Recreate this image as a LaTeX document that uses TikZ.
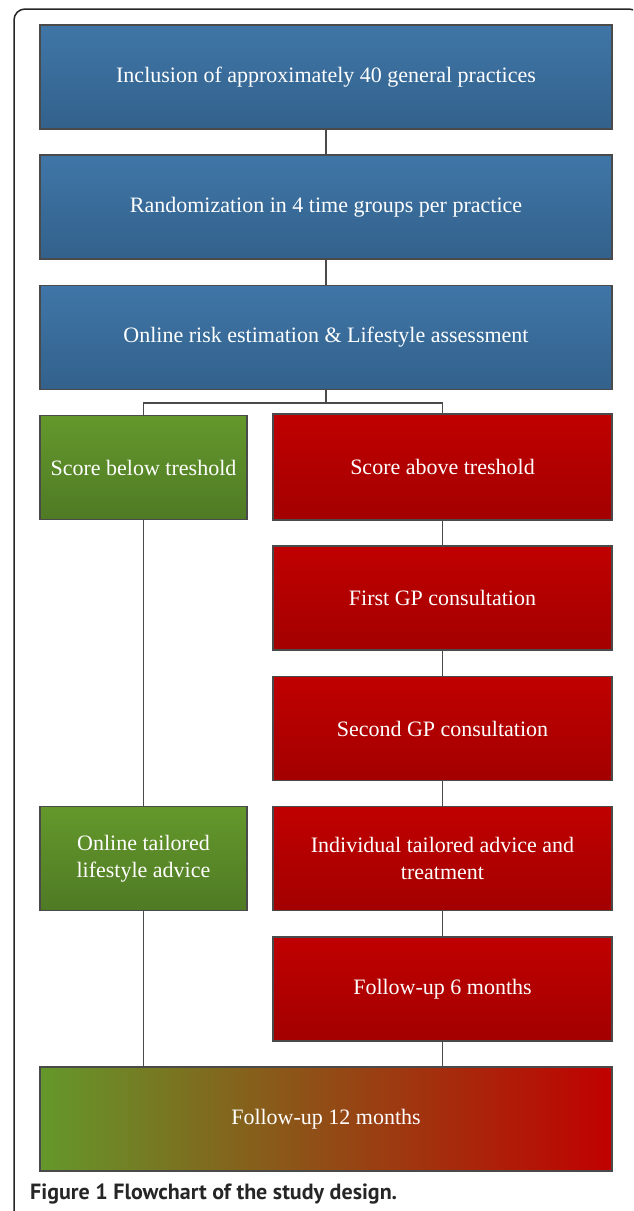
\documentclass[tikz,border=0pt]{standalone}
\usepackage{fontspec}
\setmainfont{Liberation Serif}
\newfontfamily\capfont{PT Sans}
\definecolor{blueT}{HTML}{3F76A7}
\definecolor{blueB}{HTML}{33618C}
\definecolor{greenT}{HTML}{64982B}
\definecolor{greenB}{HTML}{4F7A25}
\definecolor{redT}{HTML}{C00000}
\definecolor{redB}{HTML}{A30000}
\definecolor{fadeM}{HTML}{9C6E24}
\definecolor{boxline}{HTML}{4A4A4A}
\tikzset{
  box/.style={draw=boxline, line width=1.3pt, text=white, font=\fontsize{22}{27}\selectfont, align=center, inner sep=0pt, minimum height=104pt},
  bluebox/.style={box, top color=blueT, bottom color=blueB, minimum width=572pt},
  greenbox/.style={box, top color=greenT, bottom color=greenB, minimum width=207pt},
  redbox/.style={box, top color=redT, bottom color=redB, minimum width=339pt},
  fadebox/.style={box, left color=greenT, middle color=fadeM, right color=redT, minimum width=572pt},
  conn/.style={draw=boxline, line width=1.5pt},
  frame/.style={draw=black!85, line width=1.5pt, rounded corners=11pt}
}
\begin{document}
\begin{tikzpicture}[x=1pt,y=-1pt]
\useasboundingbox (0,0) rectangle (633,1211);
\begin{scope}
\clip (0,0) rectangle (633,1211);
\draw[frame] (14,1220) -- (14,9) -- (640,9) -- (640,1220);
\end{scope}
\node[bluebox] (b1) at (326,77) {Inclusion of approximately 40 general practices};
\node[bluebox] (b2) at (326,207) {Randomization in 4 time groups per practice};
\node[bluebox] (b3) at (326,337.5) {Online risk estimation \& Lifestyle assessment};
\node[greenbox] (g1) at (143.5,467.5) {Score below treshold};
\node[redbox, minimum height=106pt] (r1) at (442.5,467) {Score above treshold};
\node[redbox] (r2) at (442.5,598) {First GP consultation};
\node[redbox] (r3) at (442.5,728.5) {Second GP consultation};
\node[greenbox] (g2) at (143.5,858.5) {Online tailored\\lifestyle advice};
\node[redbox] (r4) at (442.5,858.5) {Individual tailored advice and\\treatment};
\node[redbox] (r5) at (442.5,989) {Follow-up 6 months};
\node[fadebox] (f) at (326,1119) {Follow-up 12 months};
\coordinate (sp) at (326,403);
\draw[conn] (b1) -- (b2);
\draw[conn] (b2) -- (b3);
\draw[conn] (b3) -- (sp);
\draw[conn] (g1.north) |- (sp) -| (r1.north);
\draw[conn] (g1) -- (g2);
\draw[conn] (r1) -- (r2);
\draw[conn] (r2) -- (r3);
\draw[conn] (r3) -- (r4);
\draw[conn] (r4) -- (r5);
\draw[conn] (g2.south) -- (g2.south |- f.north);
\draw[conn] (r5.south) -- (r5.south |- f.north);
\node[anchor=base west, inner sep=0pt, text=black!85, font=\capfont\bfseries\fontsize{22}{26}\selectfont] (cap) at (30,1199) {Figure 1 Flowchart of the study design.};
\end{tikzpicture}
\end{document}
